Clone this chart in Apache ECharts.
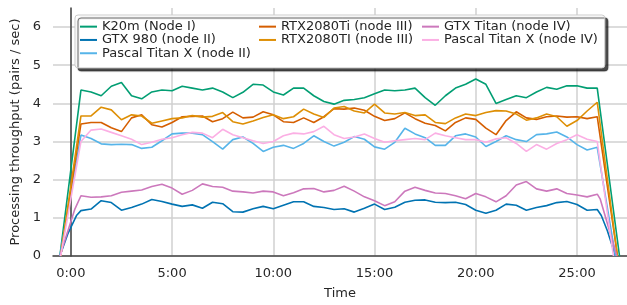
<!DOCTYPE html>
<html>
<head>
<meta charset="utf-8">
<script src="https://cdn.jsdelivr.net/npm/echarts@6/dist/echarts.min.js"></script>
<style>
  html, body { margin: 0; padding: 0; background: #fff; }
  #chart { width: 627px; height: 305px; }
</style>
</head>
<body>
<div id="chart"></div>
<script>
// sample times (minutes) over the steady part of the run
const times = [0.5, 1, 1.5, 2, 2.5, 3, 3.5, 4, 4.5, 5, 5.5, 6, 6.5, 7, 7.5, 8, 8.5, 9, 9.5, 10,
  10.5, 11, 11.5, 12, 12.5, 13, 13.5, 14, 14.5, 15, 15.5, 16, 16.5, 17, 17.5, 18, 18.5, 19, 19.5, 20,
  20.5, 21, 21.5, 22, 22.5, 23, 23.5, 24, 24.5, 25, 25.5, 26];

const k20m = [4.35, 4.3, 4.2, 4.45, 4.55, 4.2, 4.12, 4.3, 4.35, 4.33, 4.45, 4.4, 4.35, 4.4, 4.3, 4.15, 4.29, 4.5, 4.48, 4.3,
  4.22, 4.4, 4.4, 4.2, 4.05, 3.98, 4.08, 4.1, 4.15, 4.25, 4.35, 4.33, 4.35, 4.4, 4.15, 3.95, 4.2, 4.4, 4.5, 4.64,
  4.5, 4.0, 4.1, 4.2, 4.15, 4.3, 4.42, 4.37, 4.46, 4.46, 4.4, 4.4];
const gtx980 = [1.19, 1.23, 1.45, 1.4, 1.2, 1.27, 1.36, 1.48, 1.43, 1.36, 1.3, 1.34, 1.25, 1.41, 1.37, 1.16, 1.15, 1.24, 1.3, 1.24,
  1.33, 1.42, 1.42, 1.3, 1.27, 1.22, 1.24, 1.15, 1.25, 1.36, 1.22, 1.28, 1.41, 1.46, 1.47, 1.41, 1.4, 1.41, 1.35, 1.2,
  1.12, 1.2, 1.36, 1.33, 1.2, 1.27, 1.32, 1.4, 1.43, 1.35, 1.2, 1.22];
const pascal2 = [3.17, 3.08, 2.94, 2.92, 2.93, 2.92, 2.82, 2.85, 3.02, 3.2, 3.22, 3.22, 3.18, 3.0, 2.8, 3.05, 3.12, 2.95, 2.74, 2.85,
  2.9, 2.82, 2.95, 3.15, 3.0, 2.88, 2.98, 3.13, 3.06, 2.86, 2.8, 2.98, 3.35, 3.2, 3.1, 2.9, 2.9, 3.15, 3.2, 3.12,
  2.87, 3.0, 3.15, 3.05, 3.0, 3.18, 3.2, 3.25, 3.12, 2.92, 2.78, 2.85];
const rtxTi = [3.46, 3.5, 3.5, 3.36, 3.26, 3.62, 3.7, 3.44, 3.38, 3.5, 3.65, 3.66, 3.67, 3.52, 3.6, 3.77, 3.62, 3.64, 3.78, 3.7,
  3.52, 3.5, 3.62, 3.5, 3.65, 3.86, 3.85, 3.88, 3.82, 3.66, 3.55, 3.6, 3.75, 3.6, 3.48, 3.42, 3.28, 3.5, 3.62, 3.58,
  3.35, 3.18, 3.55, 3.78, 3.62, 3.58, 3.65, 3.67, 3.64, 3.65, 3.6, 3.65];
const rtxTI = [3.67, 3.67, 3.9, 3.83, 3.57, 3.7, 3.67, 3.48, 3.54, 3.6, 3.62, 3.68, 3.64, 3.66, 3.76, 3.52, 3.46, 3.54, 3.63, 3.7,
  3.6, 3.65, 3.85, 3.72, 3.63, 3.88, 3.92, 3.8, 3.75, 3.98, 3.75, 3.72, 3.76, 3.68, 3.7, 3.5, 3.47, 3.62, 3.72, 3.68,
  3.76, 3.81, 3.8, 3.72, 3.56, 3.62, 3.72, 3.65, 3.4, 3.55, 3.8, 4.03];
const gtxTitan = [1.58, 1.54, 1.55, 1.58, 1.67, 1.7, 1.73, 1.82, 1.88, 1.78, 1.62, 1.72, 1.89, 1.82, 1.8, 1.7, 1.68, 1.65, 1.7, 1.68,
  1.58, 1.66, 1.76, 1.77, 1.68, 1.72, 1.83, 1.7, 1.55, 1.45, 1.32, 1.42, 1.7, 1.8, 1.72, 1.65, 1.64, 1.58, 1.5, 1.64,
  1.55, 1.42, 1.58, 1.86, 1.95, 1.76, 1.7, 1.76, 1.64, 1.6, 1.55, 1.62];
const pascal4 = [3.0, 3.3, 3.33, 3.24, 3.15, 3.06, 2.92, 2.98, 3.06, 3.1, 3.18, 3.24, 3.22, 3.1, 3.32, 3.18, 3.1, 3.02, 2.95, 3.0,
  3.15, 3.22, 3.2, 3.26, 3.4, 3.18, 3.08, 3.12, 3.2, 3.08, 2.98, 3.02, 3.05, 3.08, 3.05, 3.22, 3.15, 3.1, 3.05, 3.05,
  2.98, 3.07, 3.1, 2.95, 2.74, 2.92, 2.8, 2.95, 3.05, 3.18, 3.06, 3.0];

const names = ['K20m (Node I)', 'GTX 980 (node II)', 'Pascal Titan X (node II)', 'RTX2080Ti (node III)',
  'RTX2080TI (node III)', 'GTX Titan (node IV)', 'Pascal Titan X (node IV)'];
const values = [k20m, gtx980, pascal2, rtxTi, rtxTI, gtxTitan, pascal4];
const colors = ['#029e73', '#0173b2', '#56b4e9', '#d55e00', '#de8f05', '#cc78bc', '#fbafe4'];

// warm-up and wind-down points [time, value]
const rampIn = [
  [[-0.54, 0]], [[-0.54, 0], [-0.15, 0.58], [0.28, 1.06]], [[-0.54, 0]], [[-0.5, 0]],
  [[-0.5, 0]], [[-0.54, 0], [0.2, 1.23]], [[-0.5, 0]]
];
const rampOut = [
  [[27.1, 0]], [[26.2, 1.06], [26.5, 0.66], [26.9, 0]], [[26.9, 0]], [[27.0, 0]],
  [[27.0, 0]], [[26.15, 1.49], [26.97, 0]], [[26.8, 0]]
];

const xTicks = [0, 5, 10, 15, 20, 25];
const yTicks = [0, 1, 2, 3, 4, 5, 6];

const font = 'DejaVu Sans';
const textColor = '#262626';

function fmtTime(v) {
  const m = Math.floor(v);
  const s = Math.round((v - m) * 60);
  return m + ':' + String(s).padStart(2, '0');
}

const chart = echarts.init(document.getElementById('chart'));

const series = names.map((name, i) => ({
  name: name,
  type: 'line',
  showSymbol: false,
  symbol: 'none',
  color: colors[i],
  lineStyle: { width: 1.6, color: colors[i] },
  data: rampIn[i].concat(times.map((t, j) => [t, values[i][j]]), rampOut[i])
}));

const legendText = { fontFamily: font, fontSize: 13, color: textColor, lineHeight: 13.3 };

// first legend also carries the framed box (with drop shadow) behind all three columns
const legends = [
  {
    left: 75, top: 15, orient: 'vertical', z: 4,
    data: names.slice(0, 3), icon: 'rect', itemWidth: 17, itemHeight: 2, itemGap: 0,
    textStyle: legendText,
    padding: [5, 354, 8, 5],
    backgroundColor: '#ffffff', borderColor: '#cccccc', borderWidth: 1, borderRadius: 3,
    shadowColor: 'rgba(0,0,0,0.7)', shadowBlur: 1, shadowOffsetX: 3, shadowOffsetY: 3
  },
  {
    left: 259, top: 20, orient: 'vertical', z: 5,
    data: names.slice(3, 5), icon: 'rect', itemWidth: 17, itemHeight: 2, itemGap: 0,
    textStyle: legendText, padding: 0
  },
  {
    left: 422, top: 20, orient: 'vertical', z: 5,
    data: names.slice(5, 7), icon: 'rect', itemWidth: 17, itemHeight: 2, itemGap: 0,
    textStyle: legendText, padding: 0
  }
];

chart.setOption({
  animation: false,
  backgroundColor: '#fff',
  grid: { left: 53, right: 0, top: 8, bottom: 48 },
  xAxis: {
    type: 'value', min: -0.88, max: 27.47,
    name: 'Time', nameLocation: 'middle', nameGap: 31,
    nameTextStyle: { fontFamily: font, fontSize: 13, color: textColor },
    axisLine: { show: true, lineStyle: { color: '#444', width: 1.5 } },
    axisTick: { show: false, customValues: xTicks },
    axisLabel: { customValues: xTicks, formatter: fmtTime, margin: 11,
      fontFamily: font, fontSize: 13, color: textColor },
    splitLine: { show: true, lineStyle: { color: '#d0d0d0', width: 1.5 } }
  },
  yAxis: {
    type: 'value', min: 0, max: 6.5,
    name: 'Processing throughput (pairs / sec)', nameLocation: 'middle', nameGap: 28,
    nameTextStyle: { fontFamily: font, fontSize: 13, color: textColor },
    axisLine: { show: true, lineStyle: { color: '#444', width: 1.5 } },
    axisTick: { show: false, customValues: yTicks },
    axisLabel: { customValues: yTicks, margin: 12, fontFamily: font, fontSize: 13, color: textColor },
    splitLine: { show: true, lineStyle: { color: '#d0d0d0', width: 1.5 } }
  },
  legend: legends,
  series: series
});
</script>
</body>
</html>
